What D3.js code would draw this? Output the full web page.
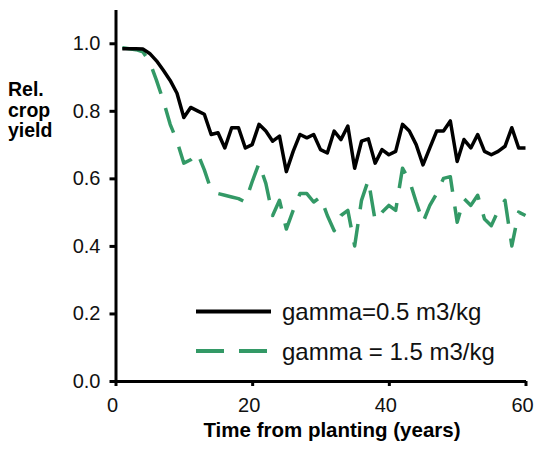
<!DOCTYPE html>
<html lang="en-US">

<head>
    <title>Relative crop yield</title>
    <meta charset="utf-8">
    <script src="https://cdn.jsdelivr.net/npm/d3@7"></script>
    <style>
        body { margin: 0; background: #fff; }
        svg { display: block; }
    </style>
</head>

<body>
    <svg></svg>
</body>

<script>

    // data, one value per year
    const years = d3.range(1, 61);

    const yield_gamma05 = [
        0.984, 0.984, 0.984, 0.983, 0.970, 0.948, 0.920, 0.890, 0.852, 0.780,
        0.810, 0.800, 0.790, 0.730, 0.735, 0.690, 0.750, 0.750, 0.690, 0.700,
        0.760, 0.740, 0.710, 0.725, 0.620, 0.680, 0.730, 0.720, 0.730, 0.685,
        0.675, 0.740, 0.715, 0.755, 0.630, 0.710, 0.717, 0.645, 0.685, 0.670,
        0.680, 0.760, 0.740, 0.700, 0.640, 0.690, 0.740, 0.740, 0.770, 0.650,
        0.715, 0.690, 0.730, 0.680, 0.670, 0.680, 0.695, 0.750, 0.690, 0.690
    ];

    const yield_gamma15 = [
        0.987, 0.984, 0.981, 0.975, 0.945, 0.890, 0.830, 0.760, 0.710, 0.645,
        0.655, 0.675, 0.625, 0.565, 0.555, 0.550, 0.545, 0.540, 0.530, 0.590,
        0.645, 0.585, 0.490, 0.535, 0.450, 0.505, 0.555, 0.555, 0.530, 0.545,
        0.490, 0.445, 0.490, 0.505, 0.400, 0.535, 0.595, 0.475, 0.500, 0.520,
        0.505, 0.630, 0.595, 0.530, 0.470, 0.520, 0.555, 0.600, 0.605, 0.470,
        0.540, 0.520, 0.550, 0.480, 0.460, 0.505, 0.535, 0.400, 0.500, 0.490
    ];

    const x_ticks = [0, 20, 40, 60];
    const y_ticks = [0, 0.2, 0.4, 0.6, 0.8, 1.0];
    const series_names = ['gamma=0.5 m3/kg', 'gamma = 1.5 m3/kg'];
    const y_title_lines = ['Rel.', 'crop', 'yield'];
    const x_title_text = 'Time from planting (years)';

    let opt = {
        width: 536,
        height: 452,
        font: '"Liberation Sans", Arial, Helvetica, sans-serif',
        black: '#000000',
        green: '#339966',
        line_width: 3.5,
        dash: '26,15',
        chart_area: { left: 115.5, right: 525.5, top: 9.5, bottom: 381 }
    };

    let svg = d3.select('svg')
        .attr('width', opt.width)
        .attr('height', opt.height);

    let xScale = d3.scaleLinear()
        .domain([0, 60])
        .range([opt.chart_area.left, opt.chart_area.right]);

    let yScale = d3.scaleLinear()
        .domain([0, 1.1])
        .range([opt.chart_area.bottom, opt.chart_area.top]);

    // Axes
    let x_axis = svg.append('g')
        .attr('id', 'x-axis')
        .attr('transform', `translate(0,${opt.chart_area.bottom})`)
        .call(d3.axisBottom(xScale).tickValues(x_ticks).tickSize(5).tickSizeOuter(0).tickPadding(12));

    let y_axis = svg.append('g')
        .attr('id', 'y-axis')
        .attr('transform', `translate(${opt.chart_area.left},0)`)
        .call(d3.axisLeft(yScale).tickValues(y_ticks).tickSize(6).tickSizeOuter(0)
            .tickPadding(9).tickFormat(d3.format('.1f')));

    [x_axis, y_axis].forEach(ax => {
        ax.select('.domain').attr('stroke', opt.black).attr('stroke-width', 3);
        ax.selectAll('.tick line').attr('stroke', opt.black).attr('stroke-width', 3);
        ax.selectAll('.tick text')
            .attr('fill', '#111')
            .style('font-family', opt.font)
            .style('font-size', '20px');
    });

    x_axis.selectAll('.tick text').attr('dx', -3.5);

    // Axis titles
    svg.append('text')
        .attr('id', 'x-axis-title')
        .attr('x', 332)
        .attr('y', 437)
        .attr('text-anchor', 'middle')
        .style('font-family', opt.font)
        .style('font-size', '20.5px')
        .style('font-weight', 'bold')
        .text(x_title_text);

    svg.append('text')
        .attr('id', 'y-axis-title')
        .attr('x', 8)
        .attr('y', 96)
        .style('font-family', opt.font)
        .style('font-size', '19.5px')
        .style('font-weight', 'bold')
        .selectAll('tspan')
        .data(y_title_lines)
        .enter()
        .append('tspan')
        .attr('x', 8)
        .attr('dy', (d, i) => i == 0 ? 0 : 20.5)
        .text(d => d);

    // Lines
    let line = d3.line()
        .x((d, i) => xScale(years[i]))
        .y(d => yScale(d));

    svg.append('path')
        .datum(yield_gamma15)
        .attr('class', 'line')
        .attr('d', line)
        .style('fill', 'none')
        .style('stroke', opt.green)
        .style('stroke-width', opt.line_width)
        .style('stroke-dasharray', opt.dash)
        .style('stroke-linejoin', 'round');

    svg.append('path')
        .datum(yield_gamma05)
        .attr('class', 'line')
        .attr('d', line)
        .style('fill', 'none')
        .style('stroke', opt.black)
        .style('stroke-width', opt.line_width)
        .style('stroke-linejoin', 'round');

    // Legend
    let legend = svg.append('g').attr('id', 'legend');
    let legend_items = [
        { name: series_names[0], color: opt.black, dash: null, y: 311.5 },
        { name: series_names[1], color: opt.green, dash: '28,15', y: 351 }
    ];

    legend_items.forEach(item => {
        svg_line(legend, 196, item.y, 271, item.y, {
            stroke: item.color, stroke_width: 4, dash: item.dash
        });
        legend.append('text')
            .attr('x', 282)
            .attr('y', item.y)
            .attr('dominant-baseline', 'central')
            .attr('fill', '#111')
            .style('font-family', opt.font)
            .style('font-size', '24px')
            .text(item.name);
    });

    function svg_line(g, x1, y1, x2, y2, o) {
        if (o == undefined) {
            o = {};
        }
        let l = g.append('line')
            .attr('x1', x1)
            .attr('y1', y1)
            .attr('x2', x2)
            .attr('y2', y2)
            .style('stroke', o.stroke ? o.stroke : 'black')
            .style('stroke-width', o.stroke_width ? o.stroke_width : 1);
        if (o.dash) {
            l.style('stroke-dasharray', o.dash);
        }
        return l;
    }

</script>

</html>
